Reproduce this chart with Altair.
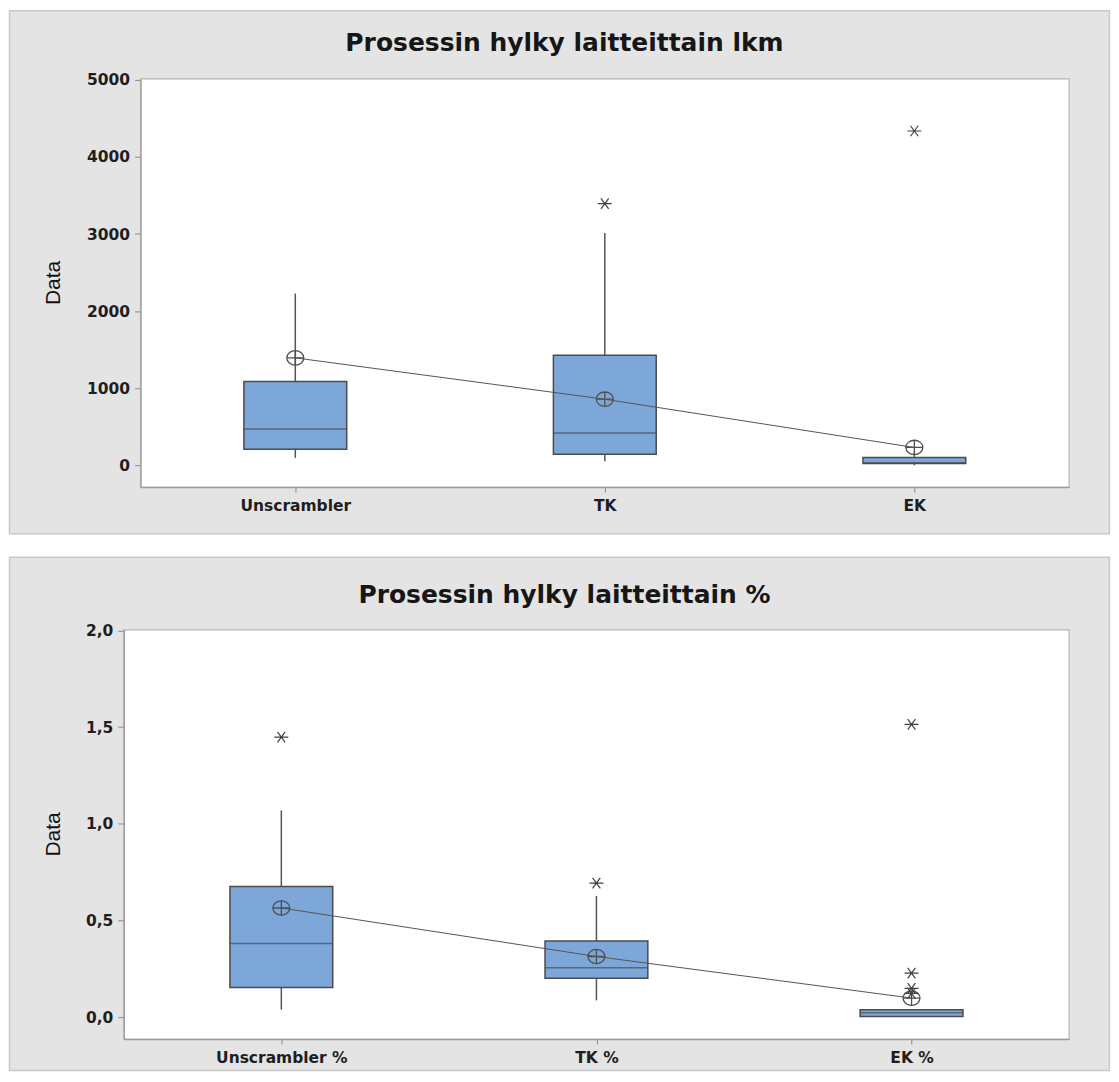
import altair as alt
import pandas as pd

# ---------------- data: top chart (counts) ----------------
top_categories = ["Unscrambler", "TK", "EK"]
top_whisker_low = [98, 54, 0]
top_q1 = [210, 143, 25]
top_median = [473, 420, 35]
top_q3 = [1089, 1429, 102]
top_whisker_high = [2229, 3015, 167]
top_mean = [1394, 858, 232]
top_outlier_cat = ["TK", "EK"]
top_outlier_val = [3395, 4337]
top_ticks = [0, 1000, 2000, 3000, 4000, 5000]
top_title = "Prosessin hylky laitteittain lkm"

# ---------------- data: bottom chart (%) ----------------
bot_categories = ["Unscrambler %", "TK %", "EK %"]
bot_whisker_low = [0.038, 0.086, 0.0]
bot_q1 = [0.153, 0.201, 0.003]
bot_median = [0.380, 0.255, 0.022]
bot_q3 = [0.675, 0.393, 0.038]
bot_whisker_high = [1.069, 0.626, 0.038]
bot_mean = [0.564, 0.313, 0.098]
bot_outlier_cat = ["Unscrambler %", "TK %", "EK %", "EK %", "EK %", "EK %"]
bot_outlier_val = [1.448, 0.693, 1.514, 0.227, 0.148, 0.122]
bot_ticks = [0.0, 0.5, 1.0, 1.5, 2.0]
bot_title = "Prosessin hylky laitteittain %"

# ---------------- styling ----------------
BOX_FILL = "#7da7d9"
DARK = "#4b4b4b"
PANEL = "#e4e4e4"
ASTERISK = "M-1,0L1,0M-0.55,-0.75L0.55,0.75M-0.55,0.75L0.55,-0.75"
MEANSYM = "M-1,0A1,0.85,0,1,1,1,0A1,0.85,0,1,1,-1,0M-1,0L1,0M0,-0.85L0,0.85"
W = 947.1


def panel(cats, wl, q1, med, q3, wh, mean, oc, ov, ticks, title, domain,
          H, geo, label_expr):
    stats = pd.DataFrame({"cat": cats, "idx": list(range(len(cats))), "wl": wl,
                          "q1": q1, "med": med, "q3": q3, "wh": wh, "mean": mean})
    outl = pd.DataFrame({"cat": oc, "val": ov})
    x0 = geo["x0"]

    x = alt.X("cat:N", sort=cats,
              scale=alt.Scale(type="point", padding=0.5, domain=cats, range=[x0, W]),
              axis=alt.Axis(title=None, labelAngle=0, tickSize=5, labelPadding=6,
                            labelFont="DejaVu Sans", labelFontWeight="bold",
                            labelFontSize=15.5, labelColor="#1e1e1e",
                            domainColor="#9a9a9a", tickColor="#8a8a8a",
                            domainWidth=1.2, zindex=1))
    yscale = alt.Scale(domain=domain, nice=False, zero=False)
    yaxis = alt.Axis(title="Data", values=ticks, labelExpr=label_expr, grid=False,
                     offset=-x0,
                     tickSize=6, labelPadding=5, labelFont="DejaVu Sans",
                     labelFontWeight="bold", labelFontSize=15.5, labelColor="#1e1e1e",
                     domainColor="#9a9a9a", tickColor="#8a8a8a", domainWidth=1.2,
                     titleFont="Liberation Sans", titleFontSize=21,
                     titleFontWeight="normal", titleColor="#111111",
                     titleAngle=270, titleAlign="center", titleBaseline="middle",
                     titleX=geo["tx"], titleY=geo["ty"], zindex=1)

    one = pd.DataFrame({"t": [title]})
    bg = alt.Chart(one).mark_rect(fill=PANEL, stroke="#c8c8c8", strokeWidth=1.5).encode(
        x=alt.value(geo["l"]), x2=alt.value(geo["r"]),
        y=alt.value(geo["t"]), y2=alt.value(geo["b"]))
    plotbg = alt.Chart(one).mark_rect(fill="white", stroke="#b4b4b4", strokeWidth=1.2).encode(
        x=alt.value(x0), x2=alt.value(W), y=alt.value(0), y2=alt.value(H))
    ttl = alt.Chart(one).mark_text(font="DejaVu Sans", fontSize=25, fontWeight="bold",
                                   color="#161616", align="center",
                                   baseline="alphabetic").encode(
        text="t:N", x=alt.value(geo["hx"]), y=alt.value(geo["hy"]))

    base = alt.Chart(stats)
    wlo = base.mark_rule(color="#555555", strokeWidth=1.5).encode(
        x=x, y=alt.Y("wl:Q", scale=yscale, axis=yaxis), y2="q1:Q")
    whi = base.mark_rule(color="#555555", strokeWidth=1.5).encode(
        x=x, y=alt.Y("q3:Q", scale=yscale, axis=yaxis), y2="wh:Q")
    box = base.mark_bar(size=103, fill=BOX_FILL, stroke=DARK, strokeWidth=1.5).encode(
        x=x, y=alt.Y("q1:Q", scale=yscale, axis=yaxis), y2="q3:Q")
    medl = base.mark_tick(size=103, thickness=1.5, color=DARK).encode(
        x=x, y=alt.Y("med:Q", scale=yscale, axis=yaxis))
    mline = base.mark_line(color="#555555", strokeWidth=1).encode(
        x=x, y=alt.Y("mean:Q", scale=yscale, axis=yaxis), order="idx:Q")
    msym = base.mark_point(shape=MEANSYM, size=289, filled=False, color="#505050",
                           strokeWidth=1.3, opacity=1).encode(
        x=x, y=alt.Y("mean:Q", scale=yscale, axis=yaxis))
    outs = alt.Chart(outl).mark_point(shape=ASTERISK, size=196, filled=False,
                                      color="#404040", strokeWidth=1.2, opacity=1).encode(
        x=x, y=alt.Y("val:Q", scale=yscale, axis=yaxis))

    return alt.layer(bg, plotbg, wlo, whi, box, medl, mline, msym, outs, ttl).properties(
        width=W, height=H)


top = panel(top_categories, top_whisker_low, top_q1, top_median, top_q3,
            top_whisker_high, top_mean, top_outlier_cat, top_outlier_val,
            top_ticks, top_title, [-282, 5013], 409,
            dict(x0=16.8, l=-114.5, r=987.5, t=-68.3, b=455.7, hx=441.5, hy=-27.6,
                 tx=-87.3, ty=204),
            "format(datum.value, 'd')")

bottom = panel(bot_categories, bot_whisker_low, bot_q1, bot_median, bot_q3,
               bot_whisker_high, bot_mean, bot_outlier_cat, bot_outlier_val,
               bot_ticks, bot_title, [-0.114, 2.003], 410,
               dict(x0=0, l=-114.5, r=987.5, t=-72.8, b=441.5, hx=441.5, hy=-27.3,
                    tx=-70, ty=204.5),
               "replace(format(datum.value, '.1f'), '.', ',')")

chart = alt.vconcat(top, bottom, spacing=20).properties(
    padding=0, background="white"
).configure_view(stroke="transparent")

chart.save("out.html", embed_options={"renderer": "svg", "actions": False})
